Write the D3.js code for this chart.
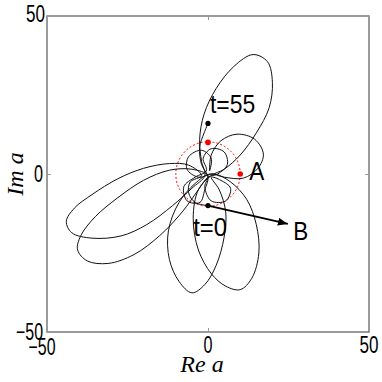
<!DOCTYPE html>
<html>
<head>
<meta charset="utf-8">
<script src="https://cdnjs.cloudflare.com/ajax/libs/d3/7.8.5/d3.min.js"></script>
<style>
	body { margin: 0; background: #fff; }
	svg { display: block; }
	.tick-label { font-family: 'Liberation Sans', Arial, sans-serif; font-size: 23px; fill: #000; }
	.note { font-family: 'Liberation Sans', Arial, sans-serif; font-size: 25px; fill: #000; }
	.title { font-family: 'Liberation Serif', 'Times New Roman', serif; font-style: italic; font-size: 24px; fill: #000; }
</style>
</head>
<body>
<div id="chart"></div>
<script>
let width = 382
let height = 382

let margins = {
	top : 16,
	right : 13,
	bottom : 50,
	left : 47,
}

// trajectory of a(t) in the complex plane
let startLoop = [[0,-10],[-4,-9],[-6,-6],[-5.5,-2.5],[-2,-0.5]]
let leftPetal1 = [[-6,2.8],[-12,3.3],[-20,1.8],[-28,-1.5],[-36,-6.5],[-41.5,-10.8],[-44,-15],[-42.3,-18.6],[-36,-20.3],[-27,-19.6],[-19,-16],[-11,-10],[-5,-4.5],[-1,-0.5]]
let upperPetal = [[-2,4],[-2.6,11],[-1.2,19],[2.5,27],[8,34],[14,37.8],[18.5,35.5],[20,29],[19,21],[15,13],[10,6],[5,1.5],[1,-0.5]]
let lowerPetalRight = [[-3,-5],[-4.6,-14],[-3,-24],[1,-31.5],[5.5,-35.5],[10,-36.6],[13.6,-33],[15.8,-25],[15,-16],[12,-8],[7,-2.5],[2,0]]
let smallLoop1 = [[-3,-1],[-6.5,1.5],[-6,5.5],[-2,7.5],[1,5],[0.5,1]]
let rightPetal = [[1,6],[4,10.5],[9,12.6],[14.5,11],[17.2,6.3],[15.5,1.8],[11,-1.3],[5,-1],[0.5,0]]
let lowerPetalLeft = [[-4,-3],[-9,-9],[-12.3,-18],[-12,-27],[-9,-34],[-5,-37.6],[-1,-35],[2.5,-29],[5,-20],[5.5,-12],[3.5,-5],[1,-1]]
let smallLoop2 = [[4,-2],[7,-4.5],[5.5,-8.5],[1,-8.5],[-1,-4],[0,-0.5]]
let leftPetal2 = [[-5,1.5],[-12,1.2],[-20,-2],[-28,-7.5],[-35,-13.5],[-39.5,-19.5],[-40.5,-24],[-37.5,-27.5],[-31,-28.3],[-23,-25.5],[-15,-19.5],[-8,-12],[-3,-5],[0,-1]]
let smallLoop3 = [[3,0],[6,3],[5,7],[1,8],[-1.5,5],[-0.5,1]]
let smallLoop4 = [[-4,-1],[-7.5,-4],[-6.5,-8.5],[-2.5,-9],[-1,-5],[0,-1]]
let endTail = [[-2,3],[-2.6,8.5],[-1.2,13],[0,16]]

let trajectory = [].concat(startLoop, leftPetal1, upperPetal, lowerPetalRight, smallLoop1,
	rightPetal, lowerPetalLeft, smallLoop2, leftPetal2, smallLoop3, smallLoop4, endTail)

let redRadius = 10
let redPoints = [[0,10],[10,0]]
let blackPoints = [[0,-10],[0,16]]
let arrowFrom = [0,-10]
let arrowTo = [24.8,-15.8]

let notes = [
	{text : 't=55', x : 0.6, y : 19.3},
	{text : 'A', x : 12.8, y : -2},
	{text : 't=0', x : -4.6, y : -19.6},
	{text : 'B', x : 26.5, y : -20.8},
]

let ticks = [-50, 0, 50]

let xScale = d3.scaleLinear()
	.domain([-50,50])
	.range([margins.left, width-margins.right])

let yScale = d3.scaleLinear()
	.domain([-50,50])
	.range([height-margins.bottom, margins.top])

let svg = d3.select('#chart').append('svg')
	.attr('width',width)
	.attr('height',height)

let defs = svg.append('defs')
defs.append('marker')
	.attr('id','arrowhead')
	.attr('markerUnits','userSpaceOnUse')
	.attr('markerWidth',12)
	.attr('markerHeight',10)
	.attr('refX',10)
	.attr('refY',4)
	.attr('orient','auto')
	.append('path')
	.attr('d','M0,0 L10,4 L0,8 z')
	.attr('fill','#000')

// frame
svg.append('rect')
	.attr('x', xScale(-50))
	.attr('y', yScale(50))
	.attr('width', xScale(50)-xScale(-50))
	.attr('height', yScale(-50)-yScale(50))
	.attr('fill','none')
	.attr('stroke','#666')
	.attr('stroke-width',1.3)

// inward ticks on all four sides, labels drawn separately
let axes = svg.append('g')
axes.append('g')
	.attr('transform',`translate(0,${yScale(-50)})`)
	.call(d3.axisBottom(xScale).tickValues(ticks).tickSize(-4))
axes.append('g')
	.attr('transform',`translate(0,${yScale(50)})`)
	.call(d3.axisTop(xScale).tickValues(ticks).tickSize(-4))
axes.append('g')
	.attr('transform',`translate(${xScale(-50)},0)`)
	.call(d3.axisLeft(yScale).tickValues(ticks).tickSize(-4))
axes.append('g')
	.attr('transform',`translate(${xScale(50)},0)`)
	.call(d3.axisRight(yScale).tickValues(ticks).tickSize(-4))

axes.selectAll('.domain').remove()
axes.selectAll('.tick text').remove()
axes.selectAll('.tick line').attr('stroke','#999').attr('stroke-width',1)

function tickText(d) {
	return d < 0 ? '\u2212' + Math.abs(d) : String(d)
}
function tickWidth(d) {
	return d < 0 ? 27 : (d == 0 ? 9 : 19)
}

let labels = svg.append('g')

labels.selectAll('text.xlab')
	.data(ticks)
	.enter()
	.append('text')
	.attr('class','tick-label')
	.attr('text-anchor','middle')
	.attr('x', (d) => xScale(d) + (d < 0 ? -5 : 0))
	.attr('y', (d) => d < 0 ? 355 : 353)
	.attr('lengthAdjust','spacingAndGlyphs')
	.attr('textLength', tickWidth)
	.text(tickText)

labels.selectAll('text.ylab')
	.data(ticks)
	.enter()
	.append('text')
	.attr('class','tick-label')
	.attr('text-anchor','end')
	.attr('x', (d) => xScale(-50) - (d == 50 ? 2 : 4))
	.attr('y', (d) => d == 50 ? 22 : (d == 0 ? 182 : 340))
	.attr('lengthAdjust','spacingAndGlyphs')
	.attr('textLength', tickWidth)
	.text(tickText)

// titles
svg.append('text')
	.attr('class','title')
	.attr('text-anchor','middle')
	.attr('x', xScale(0) - 6)
	.attr('y', 372)
	.text('Re a')

svg.append('text')
	.attr('class','title')
	.attr('text-anchor','middle')
	.attr('transform',`translate(23,${yScale(0)}) rotate(-90)`)
	.text('Im a')

// dashed red circle
svg.append('circle')
	.attr('cx', xScale(0))
	.attr('cy', yScale(0))
	.attr('r', xScale(redRadius)-xScale(0))
	.attr('fill','none')
	.attr('stroke','#f00')
	.attr('stroke-width',1)
	.attr('stroke-dasharray','2,2')

let line = d3.line()
	.x((d) => xScale(d[0]))
	.y((d) => yScale(d[1]))
	.curve(d3.curveCatmullRom.alpha(0.5))

svg.append('path')
	.datum(trajectory)
	.attr('d', line)
	.attr('fill','none')
	.attr('stroke','#111')
	.attr('stroke-width',1)

svg.append('line')
	.attr('x1', xScale(arrowFrom[0]))
	.attr('y1', yScale(arrowFrom[1]))
	.attr('x2', xScale(arrowTo[0]))
	.attr('y2', yScale(arrowTo[1]))
	.attr('stroke','#000')
	.attr('stroke-width',1.8)
	.attr('marker-end','url(#arrowhead)')

svg.selectAll('circle.red')
	.data(redPoints)
	.enter()
	.append('circle')
	.classed('red', true)
	.attr('cx', (d) => xScale(d[0]))
	.attr('cy', (d) => yScale(d[1]))
	.attr('r', 2.8)
	.attr('fill','#f00')

svg.selectAll('circle.black')
	.data(blackPoints)
	.enter()
	.append('circle')
	.classed('black', true)
	.attr('cx', (d) => xScale(d[0]))
	.attr('cy', (d) => yScale(d[1]))
	.attr('r', 2.6)
	.attr('fill','#000')

svg.selectAll('text.note')
	.data(notes)
	.enter()
	.append('text')
	.attr('class','note')
	.attr('x', (d) => xScale(d.x))
	.attr('y', (d) => yScale(d.y))
	.attr('lengthAdjust','spacingAndGlyphs')
	.attr('textLength', (d) => d.text.length > 1 ? d.text.length * 11.3 : 15)
	.text((d) => d.text)
</script>
</body>
</html>
